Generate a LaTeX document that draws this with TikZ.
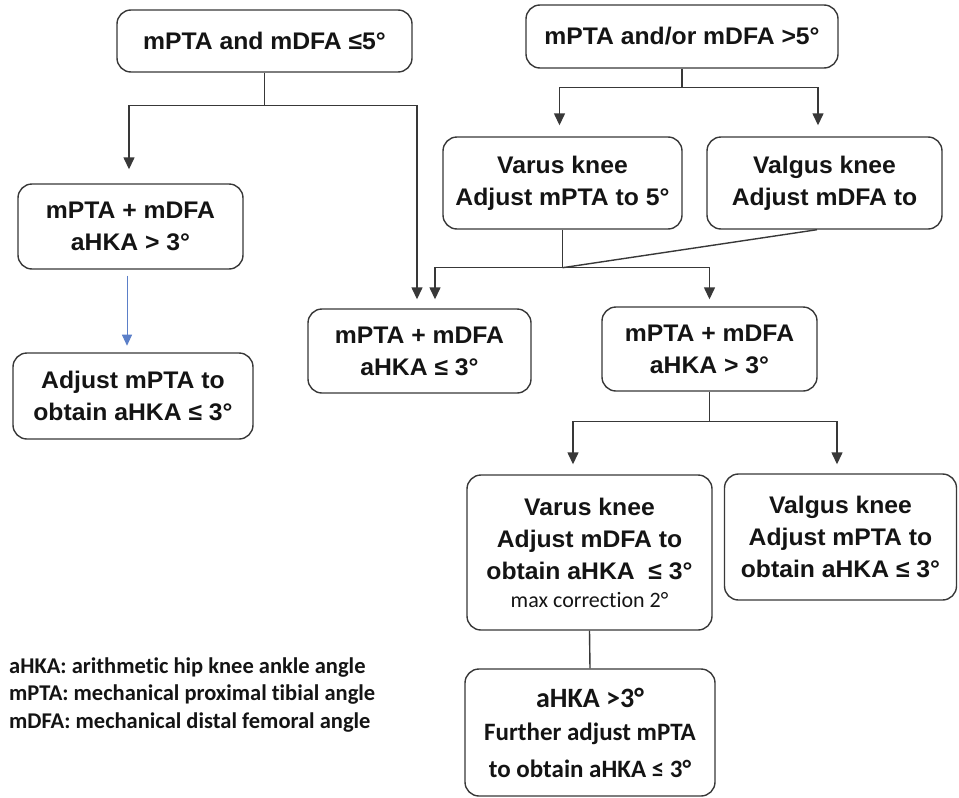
\documentclass[tikz,border=0pt]{standalone}
\usepackage{fontspec}
\setmainfont{Liberation Sans}[FakeStretch=1.03]
\newfontfamily\calfont{Carlito}[Ligatures={NoCommon}]
\usetikzlibrary{arrows.meta,calc}
\definecolor{txt}{HTML}{141414}
\definecolor{bord}{HTML}{383838}
\definecolor{bluearr}{HTML}{5B7FC8}
\tikzset{
 box/.style={draw=bord, line width=1.4pt, rounded corners=14pt, align=center, text=txt,
   font=\bfseries\fontsize{24}{32}\selectfont, inner sep=0pt},
 conn/.style={draw=bord, line width=1.4pt},
 arr/.style={conn, -{Triangle[width=11pt,length=12pt]}},
 bluearrow/.style={draw=bluearr, line width=1pt, -{Triangle[width=10pt,length=11pt]}},
}
\begin{document}
\begin{tikzpicture}[x=1pt,y=-1pt]
\useasboundingbox (0,0) rectangle (959,798);
% boxes
\node[box, minimum width=295pt, minimum height=62pt] (A) at (264.5,41) {mPTA and mDFA ≤5°};
\node[box, minimum width=312pt, minimum height=63pt] (B) at (682,36.5) {mPTA and/or mDFA >5°};
\node[box, minimum width=239pt, minimum height=92pt] (C) at (562.5,183) {Varus knee\\Adjust mPTA to 5°};
\node[box, minimum width=235pt, minimum height=92pt] (D) at (824.5,183) {Valgus knee\\Adjust mDFA to};
\node[box, minimum width=225pt, minimum height=85pt] (G) at (130.5,226.5) {mPTA + mDFA\\aHKA > 3°};
\node[box, minimum width=240pt, minimum height=86pt] (H) at (133,396) {Adjust mPTA to\\obtain aHKA ≤ 3°};
\node[box, minimum width=223pt, minimum height=84pt] (E) at (419.5,351) {mPTA + mDFA\\aHKA ≤ 3°};
\node[box, minimum width=215pt, minimum height=84pt] (F) at (709.5,349) {mPTA + mDFA\\aHKA > 3°};
\node[box, minimum width=245pt, minimum height=155pt] (I) at (589.5,552.5)
  {Varus knee\\Adjust mDFA to\\obtain aHKA \ ≤ 3°\\[-4pt]{\calfont\mdseries\fontsize{22}{28}\selectfont max correction 2°}};
\node[box, minimum width=232pt, minimum height=126pt] (J) at (840.5,537) {Valgus knee\\Adjust mPTA to\\obtain aHKA ≤ 3°};
\node[box, minimum width=250pt, minimum height=127pt, font=\calfont\bfseries\fontsize{25}{37}\selectfont] (K) at (590,732.5)
  {{\fontsize{28}{37}\selectfont aHKA >3°}\\[-4pt]Further adjust mPTA\\to obtain aHKA ≤ 3°};
% legend
\node[anchor=west, align=left, inner sep=0pt, text=txt, font=\calfont\bfseries\fontsize{22.5}{27.5}\selectfont] (L) at (9,695)
  {aHKA: arithmetic hip knee ankle angle\\mPTA: mechanical proximal tibial angle\\mDFA: mechanical distal femoral angle};
% connectors
\draw[conn] (A.south) -- ++(0,33) coordinate (jA);
\draw[arr] (jA) -| ($(G.north)+(-1.5,-14)$);
\draw[arr] (jA) -| ($(E.north)+(-2.5,-9)$);
\draw[conn] (B.south) -- ++(0,19) coordinate (jB);
\draw[arr] (jB) -| ($(C.north)+(-3,-11)$);
\draw[arr] (jB) -| ($(D.north)+(-6.5,-11)$);
\draw[conn] (C.south) -- ++(0,38) coordinate (jC);
\draw[conn] ($(D.south)+(-7.5,0)$) -- (jC);
\draw[arr] (jC) -| ($(E.north)+(15.5,-9)$);
\draw[arr] (jC) -| ($(F.north)+(0,-7)$);
\draw[bluearrow] ($(G.south)+(-3.5,6)$) -- ($(G.south)+(-3.5,76)$);
\draw[conn] (F.south) -- ++(0,30) coordinate (jF);
\draw[arr] (jF) -| ($(I.north)+(-16.5,-10)$);
\draw[arr] (jF) -| ($(J.north)+(-3.5,-9)$);
\draw[conn] (I.south) -- (K.north);
\end{tikzpicture}
\end{document}
